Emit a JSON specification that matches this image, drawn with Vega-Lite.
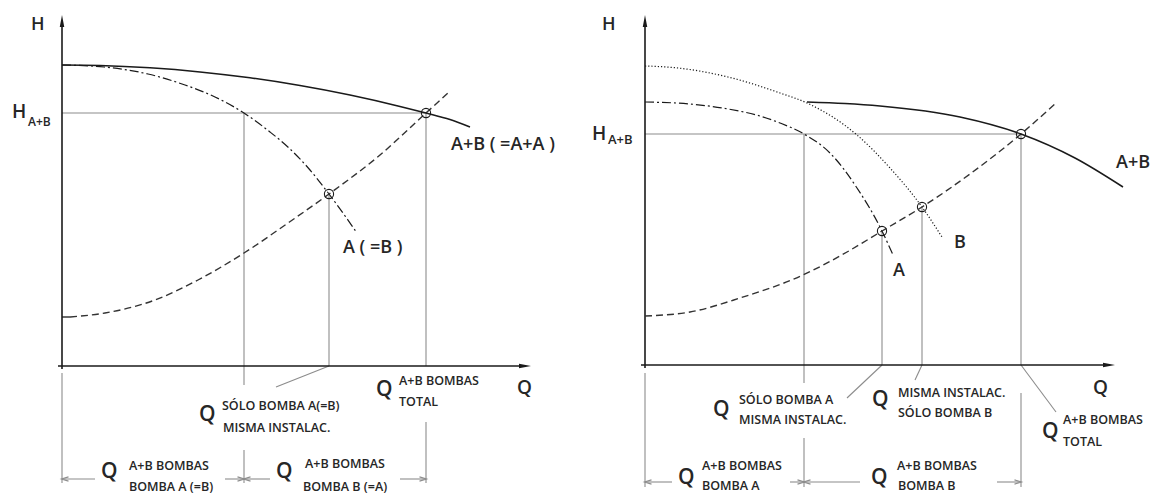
{
  "$schema": "https://vega.github.io/schema/vega-lite/v6.json",
  "padding": 0,
  "spacing": 0,
  "background": "white",
  "config": {"view": {"stroke": null}, "font": "Open Sans", "concat": {"spacing": 0}},
  "datasets": {
    "Lcurves": [
      {"s": "solid", "Q": 0, "H": 301}, {"s": "solid", "Q": 38, "H": 300.5}, {"s": "solid", "Q": 88, "H": 298.2}, {"s": "solid", "Q": 138, "H": 294.1}, {"s": "solid", "Q": 188, "H": 288.2}, {"s": "solid", "Q": 238, "H": 280.5}, {"s": "solid", "Q": 288, "H": 271}, {"s": "solid", "Q": 338, "H": 259.6}, {"s": "solid", "Q": 364, "H": 253}, {"s": "solid", "Q": 388, "H": 246.5}, {"s": "solid", "Q": 408, "H": 239},
      {"s": "dashdot", "Q": 0, "H": 301}, {"s": "dashdot", "Q": 42, "H": 299}, {"s": "dashdot", "Q": 86, "H": 292}, {"s": "dashdot", "Q": 123, "H": 281}, {"s": "dashdot", "Q": 153, "H": 269}, {"s": "dashdot", "Q": 182, "H": 253}, {"s": "dashdot", "Q": 208, "H": 234}, {"s": "dashdot", "Q": 227, "H": 218}, {"s": "dashdot", "Q": 248, "H": 196}, {"s": "dashdot", "Q": 267, "H": 172}, {"s": "dashdot", "Q": 295, "H": 133},
      {"s": "dashed", "Q": 8, "H": 49}, {"s": "dashed", "Q": 43, "H": 53}, {"s": "dashed", "Q": 93, "H": 66}, {"s": "dashed", "Q": 136, "H": 86}, {"s": "dashed", "Q": 182, "H": 113}, {"s": "dashed", "Q": 226, "H": 143}, {"s": "dashed", "Q": 267, "H": 172}, {"s": "dashed", "Q": 318, "H": 211}, {"s": "dashed", "Q": 364, "H": 253}, {"s": "dashed", "Q": 386, "H": 273}
    ],
    "Lrules": [
      {"k": "a", "Q": 0, "H": -3, "Q2": 0, "H2": 340},
      {"k": "a", "Q": -4, "H": 0, "Q2": 458, "H2": 0},
      {"k": "t", "Q": 0, "H": 49, "Q2": 8, "H2": 49},
      {"k": "g", "Q": 0, "H": 253, "Q2": 364, "H2": 253},
      {"k": "g", "Q": 182, "H": 253, "Q2": 182, "H2": -19},
      {"k": "g", "Q": 182, "H": -84, "Q2": 182, "H2": -117},
      {"k": "g", "Q": 267, "H": 172, "Q2": 267, "H2": 0},
      {"k": "g", "Q": 364, "H": 253, "Q2": 364, "H2": 0},
      {"k": "g", "Q": 364, "H": -56, "Q2": 364, "H2": -117},
      {"k": "g", "Q": 0, "H": -7, "Q2": 0, "H2": -117},
      {"k": "g", "Q": 267, "H": 0, "Q2": 214, "H2": -21},
      {"k": "g", "Q": 0, "H": -113, "Q2": 33, "H2": -113},
      {"k": "g", "Q": 163, "H": -113, "Q2": 182, "H2": -113},
      {"k": "g", "Q": 182, "H": -113, "Q2": 208, "H2": -113},
      {"k": "g", "Q": 338, "H": -113, "Q2": 364, "H2": -113}
    ],
    "Lmarks": [
      {"k": "tri", "Q": 0, "H": 345, "sh": "M0,-1L0.38,1L-0.38,1Z"},
      {"k": "tri", "Q": 463, "H": 0, "sh": "M1,0L-1,0.38L-1,-0.38Z"},
      {"k": "chev", "Q": 3, "H": -113, "sh": "M1,-0.6L-1,0L1,0.6"},
      {"k": "chev", "Q": 179, "H": -113, "sh": "M-1,-0.6L1,0L-1,0.6"},
      {"k": "chev", "Q": 185, "H": -113, "sh": "M1,-0.6L-1,0L1,0.6"},
      {"k": "chev", "Q": 361, "H": -113, "sh": "M-1,-0.6L1,0L-1,0.6"}
    ],
    "Lpts": [{"Q": 267, "H": 172}, {"Q": 364, "H": 253}],
    "Ltext": [
      {"t": "H", "Q": -31, "H": 341, "fs": 18},
      {"t": "H", "Q": -50, "H": 254, "fs": 19},
      {"t": "A+B", "Q": -34, "H": 244, "fs": 12},
      {"t": "A+B ( =A+A )", "Q": 389, "H": 221, "fs": 18},
      {"t": "A ( =B )", "Q": 281, "H": 118, "fs": 18},
      {"t": "Q", "Q": 455, "H": -22, "fs": 19},
      {"t": "Q", "Q": 137, "H": -49, "fs": 21},
      {"t": "SÓLO BOMBA A(=B)", "Q": 160, "H": -40, "fs": 12.5},
      {"t": "MISMA INSTALAC.", "Q": 161, "H": -62, "fs": 12.5},
      {"t": "Q", "Q": 314, "H": -24, "fs": 21},
      {"t": "A+B BOMBAS", "Q": 337, "H": -15, "fs": 12.5},
      {"t": "TOTAL", "Q": 337, "H": -36, "fs": 12.5},
      {"t": "Q", "Q": 39, "H": -106, "fs": 21},
      {"t": "A+B BOMBAS", "Q": 67, "H": -100, "fs": 12.5},
      {"t": "BOMBA A (=B)", "Q": 67, "H": -121, "fs": 12.5},
      {"t": "Q", "Q": 214, "H": -106, "fs": 21},
      {"t": "A+B BOMBAS", "Q": 243, "H": -98, "fs": 12.5},
      {"t": "BOMBA B (=A)", "Q": 241, "H": -121, "fs": 12.5}
    ],
    "Rcurves": [
      {"s": "solid", "Q": 162, "H": 263}, {"s": "solid", "Q": 200, "H": 261.5}, {"s": "solid", "Q": 235, "H": 259}, {"s": "solid", "Q": 315, "H": 248}, {"s": "solid", "Q": 376, "H": 231}, {"s": "solid", "Q": 430, "H": 207}, {"s": "solid", "Q": 478, "H": 178},
      {"s": "dashdot", "Q": 0, "H": 263}, {"s": "dashdot", "Q": 45, "H": 261}, {"s": "dashdot", "Q": 83, "H": 256}, {"s": "dashdot", "Q": 115, "H": 249}, {"s": "dashdot", "Q": 135, "H": 242}, {"s": "dashdot", "Q": 159, "H": 231}, {"s": "dashdot", "Q": 185, "H": 212}, {"s": "dashdot", "Q": 212, "H": 177}, {"s": "dashdot", "Q": 237, "H": 134}, {"s": "dashdot", "Q": 248, "H": 110},
      {"s": "dashed", "Q": 0, "H": 49}, {"s": "dashed", "Q": 45, "H": 53}, {"s": "dashed", "Q": 95, "H": 67}, {"s": "dashed", "Q": 158, "H": 90}, {"s": "dashed", "Q": 202, "H": 113}, {"s": "dashed", "Q": 237, "H": 134}, {"s": "dashed", "Q": 277, "H": 158}, {"s": "dashed", "Q": 325, "H": 191}, {"s": "dashed", "Q": 376, "H": 231}, {"s": "dashed", "Q": 411, "H": 262},
      {"s": "dotted", "Q": 0, "H": 299}, {"s": "dotted", "Q": 28, "H": 297.5}, {"s": "dotted", "Q": 83, "H": 288}, {"s": "dotted", "Q": 135, "H": 272}, {"s": "dotted", "Q": 162, "H": 262}, {"s": "dotted", "Q": 212, "H": 230}, {"s": "dotted", "Q": 245, "H": 197}, {"s": "dotted", "Q": 277, "H": 158}, {"s": "dotted", "Q": 297, "H": 128}
    ],
    "Rrules": [
      {"k": "a", "Q": 0, "H": -3, "Q2": 0, "H2": 339},
      {"k": "a", "Q": -4, "H": 0, "Q2": 459, "H2": 0},
      {"k": "g", "Q": 0, "H": 231, "Q2": 376, "H2": 231},
      {"k": "g", "Q": 159, "H": 231, "Q2": 159, "H2": -18},
      {"k": "g", "Q": 159, "H": -73, "Q2": 159, "H2": -122},
      {"k": "g", "Q": 237, "H": 134, "Q2": 237, "H2": 0},
      {"k": "g", "Q": 277, "H": 158, "Q2": 277, "H2": 0},
      {"k": "g", "Q": 376, "H": 231, "Q2": 376, "H2": 0},
      {"k": "g", "Q": 376, "H": -28, "Q2": 376, "H2": -122},
      {"k": "g", "Q": 0, "H": -8, "Q2": 0, "H2": -122},
      {"k": "g", "Q": 237, "H": 0, "Q2": 202, "H2": -33},
      {"k": "g", "Q": 277, "H": 0, "Q2": 270, "H2": -15},
      {"k": "g", "Q": 376, "H": 0, "Q2": 411, "H2": -47},
      {"k": "g", "Q": 0, "H": -117, "Q2": 27, "H2": -117},
      {"k": "g", "Q": 145, "H": -117, "Q2": 159, "H2": -117},
      {"k": "g", "Q": 159, "H": -117, "Q2": 215, "H2": -117},
      {"k": "g", "Q": 352, "H": -117, "Q2": 376, "H2": -117}
    ],
    "Rmarks": [
      {"k": "tri", "Q": 0, "H": 344, "sh": "M0,-1L0.38,1L-0.38,1Z"},
      {"k": "tri", "Q": 464, "H": 0, "sh": "M1,0L-1,0.38L-1,-0.38Z"},
      {"k": "chev", "Q": 3, "H": -117, "sh": "M1,-0.6L-1,0L1,0.6"},
      {"k": "chev", "Q": 156, "H": -117, "sh": "M-1,-0.6L1,0L-1,0.6"},
      {"k": "chev", "Q": 162, "H": -117, "sh": "M1,-0.6L-1,0L1,0.6"},
      {"k": "chev", "Q": 373, "H": -117, "sh": "M-1,-0.6L1,0L-1,0.6"}
    ],
    "Rpts": [{"Q": 237, "H": 134}, {"Q": 277, "H": 158}, {"Q": 376, "H": 231}],
    "Rtext": [
      {"t": "H", "Q": -43, "H": 340, "fs": 18},
      {"t": "H", "Q": -53, "H": 231, "fs": 19},
      {"t": "A+B", "Q": -37, "H": 225, "fs": 13},
      {"t": "A+B", "Q": 471, "H": 202, "fs": 18},
      {"t": "B", "Q": 309, "H": 122, "fs": 18},
      {"t": "A", "Q": 248, "H": 94, "fs": 18},
      {"t": "Q", "Q": 448, "H": -23, "fs": 19},
      {"t": "Q", "Q": 68, "H": -45, "fs": 21},
      {"t": "SÓLO BOMBA A", "Q": 94, "H": -35, "fs": 12.5},
      {"t": "MISMA INSTALAC.", "Q": 94, "H": -55, "fs": 12.5},
      {"t": "Q", "Q": 227, "H": -35, "fs": 21},
      {"t": "MISMA INSTALAC.", "Q": 253, "H": -28, "fs": 12.5},
      {"t": "SÓLO BOMBA B", "Q": 253, "H": -48, "fs": 12.5},
      {"t": "Q", "Q": 397, "H": -67, "fs": 21},
      {"t": "A+B BOMBAS", "Q": 418, "H": -55, "fs": 12.5},
      {"t": "TOTAL", "Q": 418, "H": -77, "fs": 12.5},
      {"t": "Q", "Q": 33, "H": -113, "fs": 21},
      {"t": "A+B BOMBAS", "Q": 57, "H": -101, "fs": 12.5},
      {"t": "BOMBA A", "Q": 57, "H": -121, "fs": 12.5},
      {"t": "Q", "Q": 226, "H": -113, "fs": 21},
      {"t": "A+B BOMBAS", "Q": 252, "H": -101, "fs": 12.5},
      {"t": "BOMBA B", "Q": 253, "H": -121, "fs": 12.5}
    ]
  },
  "hconcat": [
    {
      "width": 579,
      "height": 495,
      "encoding": {
        "x": {"field": "Q", "type": "quantitative", "scale": {"domain": [-62, 517], "nice": false, "zero": false}, "axis": null},
        "y": {"field": "H", "type": "quantitative", "scale": {"domain": [-129, 366], "nice": false, "zero": false}, "axis": null}
      },
      "layer": [
        {"data": {"name": "Lrules"}, "transform": [{"filter": "datum.k == 'g'"}], "mark": {"type": "rule", "color": "#8c8c8c", "strokeWidth": 1.1, "clip": true}, "encoding": {"x2": {"field": "Q2"}, "y2": {"field": "H2"}}},
        {"data": {"name": "Lrules"}, "transform": [{"filter": "datum.k == 'a'"}], "mark": {"type": "rule", "color": "#1a1a1a", "strokeWidth": 1.6, "clip": true}, "encoding": {"x2": {"field": "Q2"}, "y2": {"field": "H2"}}},
        {"data": {"name": "Lrules"}, "transform": [{"filter": "datum.k == 't'"}], "mark": {"type": "rule", "color": "#1a1a1a", "strokeWidth": 1.3, "clip": true}, "encoding": {"x2": {"field": "Q2"}, "y2": {"field": "H2"}}},
        {"data": {"name": "Lcurves"}, "transform": [{"filter": "datum.s == 'dashdot'"}], "mark": {"type": "line", "color": "#1a1a1a", "strokeWidth": 1.2, "interpolate": "monotone", "strokeDash": [9, 3, 2, 3], "clip": true}},
        {"data": {"name": "Lcurves"}, "transform": [{"filter": "datum.s == 'dashed'"}], "mark": {"type": "line", "color": "#333333", "strokeWidth": 1.4, "interpolate": "monotone", "strokeDash": [7, 4], "clip": true}},
        {"data": {"name": "Lcurves"}, "transform": [{"filter": "datum.s == 'solid'"}], "mark": {"type": "line", "color": "#1a1a1a", "strokeWidth": 1.5, "interpolate": "monotone", "clip": true}},
        {"data": {"name": "Lpts"}, "mark": {"type": "point", "shape": "circle", "filled": false, "size": 85, "stroke": "#1a1a1a", "strokeWidth": 1.1, "opacity": 1, "clip": true}},
        {"data": {"name": "Lmarks"}, "transform": [{"filter": "datum.k == 'tri'"}], "mark": {"type": "point", "filled": true, "color": "#1a1a1a", "size": 144, "opacity": 1, "clip": true}, "encoding": {"shape": {"field": "sh", "type": "nominal", "scale": null}}},
        {"data": {"name": "Lmarks"}, "transform": [{"filter": "datum.k == 'chev'"}], "mark": {"type": "point", "filled": false, "color": "#8c8c8c", "size": 49, "strokeWidth": 1.1, "opacity": 1, "clip": true}, "encoding": {"shape": {"field": "sh", "type": "nominal", "scale": null}}},
        {"data": {"name": "Ltext"}, "mark": {"type": "text", "align": "left", "baseline": "middle", "font": "Open Sans", "fontWeight": 600, "color": "#262626", "clip": true}, "encoding": {"text": {"field": "t"}, "size": {"field": "fs", "type": "quantitative", "scale": null}}}
      ]
    },
    {
      "width": 579,
      "height": 495,
      "encoding": {
        "x": {"field": "Q", "type": "quantitative", "scale": {"domain": [-66, 513], "nice": false, "zero": false}, "axis": null},
        "y": {"field": "H", "type": "quantitative", "scale": {"domain": [-130, 365], "nice": false, "zero": false}, "axis": null}
      },
      "layer": [
        {"data": {"name": "Rrules"}, "transform": [{"filter": "datum.k == 'g'"}], "mark": {"type": "rule", "color": "#8c8c8c", "strokeWidth": 1.1, "clip": true}, "encoding": {"x2": {"field": "Q2"}, "y2": {"field": "H2"}}},
        {"data": {"name": "Rrules"}, "transform": [{"filter": "datum.k == 'a'"}], "mark": {"type": "rule", "color": "#1a1a1a", "strokeWidth": 1.6, "clip": true}, "encoding": {"x2": {"field": "Q2"}, "y2": {"field": "H2"}}},
        {"data": {"name": "Rcurves"}, "transform": [{"filter": "datum.s == 'dashdot'"}], "mark": {"type": "line", "color": "#1a1a1a", "strokeWidth": 1.2, "interpolate": "monotone", "strokeDash": [9, 3, 2, 3], "clip": true}},
        {"data": {"name": "Rcurves"}, "transform": [{"filter": "datum.s == 'dotted'"}], "mark": {"type": "line", "color": "#1a1a1a", "strokeWidth": 1.2, "interpolate": "monotone", "strokeDash": [1.2, 2], "clip": true}},
        {"data": {"name": "Rcurves"}, "transform": [{"filter": "datum.s == 'dashed'"}], "mark": {"type": "line", "color": "#333333", "strokeWidth": 1.4, "interpolate": "monotone", "strokeDash": [7, 4], "clip": true}},
        {"data": {"name": "Rcurves"}, "transform": [{"filter": "datum.s == 'solid'"}], "mark": {"type": "line", "color": "#1a1a1a", "strokeWidth": 1.5, "interpolate": "monotone", "clip": true}},
        {"data": {"name": "Rpts"}, "mark": {"type": "point", "shape": "circle", "filled": false, "size": 85, "stroke": "#1a1a1a", "strokeWidth": 1.1, "opacity": 1, "clip": true}},
        {"data": {"name": "Rmarks"}, "transform": [{"filter": "datum.k == 'tri'"}], "mark": {"type": "point", "filled": true, "color": "#1a1a1a", "size": 144, "opacity": 1, "clip": true}, "encoding": {"shape": {"field": "sh", "type": "nominal", "scale": null}}},
        {"data": {"name": "Rmarks"}, "transform": [{"filter": "datum.k == 'chev'"}], "mark": {"type": "point", "filled": false, "color": "#8c8c8c", "size": 49, "strokeWidth": 1.1, "opacity": 1, "clip": true}, "encoding": {"shape": {"field": "sh", "type": "nominal", "scale": null}}},
        {"data": {"name": "Rtext"}, "mark": {"type": "text", "align": "left", "baseline": "middle", "font": "Open Sans", "fontWeight": 600, "color": "#262626", "clip": true}, "encoding": {"text": {"field": "t"}, "size": {"field": "fs", "type": "quantitative", "scale": null}}}
      ]
    }
  ]
}
